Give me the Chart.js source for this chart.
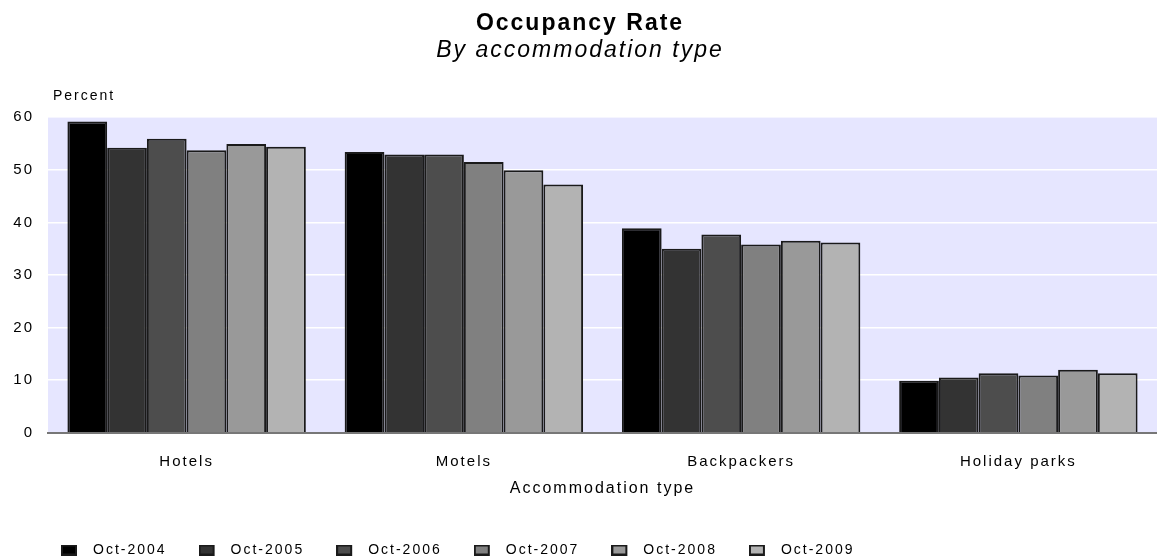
<!DOCTYPE html>
<html>
<head>
<meta charset="utf-8">
<script src="https://cdn.jsdelivr.net/npm/chart.js@4.4.1/dist/chart.umd.min.js"></script>
<style>
  html, body { margin: 0; padding: 0; background: #fff; }
  #chartBar { display: block; }
</style>
</head>
<body>
<canvas id="chartBar" width="1157" height="560"></canvas>
<script>
const categories = ["Hotels", "Motels", "Backpackers", "Holiday parks"];
const periods = ["Oct-2004", "Oct-2005", "Oct-2006", "Oct-2007", "Oct-2008", "Oct-2009"];

// percent, order: Hotels, Motels, Backpackers, Holiday parks
const oct2004 = [59.2, 53.4, 38.9, 9.9];
const oct2005 = [54.2, 52.9, 35.0, 10.5];
const oct2006 = [55.9, 52.9, 37.7, 11.3];
const oct2007 = [53.7, 51.5, 35.8, 10.9];
const oct2008 = [54.9, 49.9, 36.5, 12.0];
const oct2009 = [54.4, 47.2, 36.2, 11.3];

const yTicks = [0, 10, 20, 30, 40, 50, 60];

const barColors = ["#000000", "#333333", "#4d4d4d", "#808080", "#999999", "#b3b3b3"];
const series = [oct2004, oct2005, oct2006, oct2007, oct2008, oct2009];

Chart.defaults.font.family = '"Liberation Sans", Arial, sans-serif';
Chart.defaults.color = "#000";

// legend swatch: 16x11 box on the left of a 25px wide image
function legendBox(color) {
  const c = document.createElement("canvas");
  c.width = 25;
  c.height = 11;
  const g = c.getContext("2d");
  g.fillStyle = "#1a1a1a";
  g.fillRect(0, 0, 16, 11);
  g.fillStyle = color;
  g.fillRect(2, 2, 12, 7);
  return c;
}

const chartLook = {
  id: "chartLook",
  beforeUpdate(chart) {
    chart.ctx.letterSpacing = "2px";
  },
  afterLayout(chart) {
    chart.legend.left += 29;
    chart.legend.top += 7;
  },
  beforeDraw(chart) {
    const { ctx, chartArea: a } = chart;
    ctx.letterSpacing = "2px";
    ctx.save();
    ctx.fillStyle = "#e6e6ff";
    ctx.fillRect(a.left, a.top, a.right - a.left, a.bottom - a.top);
    ctx.restore();
  },
  afterDraw(chart) {
    const ctx = chart.ctx;
    ctx.save();
    ctx.font = '14px "Liberation Sans", Arial, sans-serif';
    ctx.fillStyle = "#000";
    ctx.textBaseline = "alphabetic";
    ctx.textAlign = "left";
    ctx.fillText("Percent", 53, 100);
    ctx.restore();
  },
};

const chartBar = document.getElementById("chartBar");

new Chart(chartBar, {
  type: "bar",
  data: {
    labels: categories,
    datasets: periods.map((p, i) => ({
      label: p,
      data: series[i],
      backgroundColor: barColors[i],
      borderColor: "#1a1a1a",
      borderWidth: 2,
      categoryPercentage: 0.86,
      barPercentage: 1.0,
    })),
  },
  options: {
    responsive: false,
    animation: false,
    layout: {
      padding: { left: 0, right: -3, top: 0, bottom: 0 },
    },
    scales: {
      x: {
        grid: { display: false, drawTicks: false },
        border: { display: true, color: "#777777", width: 2 },
        ticks: {
          padding: 20,
          font: { size: 15 },
        },
        title: {
          display: true,
          text: "Accommodation type",
          font: { size: 16 },
          padding: { top: -12, bottom: 6 },
        },
      },
      y: {
        min: 0,
        max: 60,
        afterBuildTicks: (scale) => {
          scale.ticks = yTicks.map((v) => ({ value: v }));
        },
        afterFit: (scale) => {
          scale.width = 48;
        },
        grid: {
          drawTicks: false,
          color: (c) => (c.tick && c.tick.value === 0 ? "rgba(0,0,0,0)" : "#ffffff"),
          lineWidth: 1.5,
        },
        border: { display: false },
        ticks: {
          padding: 14,
          font: { size: 15 },
        },
      },
    },
    plugins: {
      title: {
        display: true,
        text: "Occupancy Rate",
        font: { size: 23, weight: "bold" },
        color: "#000",
        padding: { top: 10, bottom: 0 },
      },
      subtitle: {
        display: true,
        text: "By accommodation type",
        font: { size: 23, style: "italic", weight: "normal" },
        color: "#000",
        padding: { top: -1, bottom: 53 },
      },
      legend: {
        position: "bottom",
        align: "start",
        labels: {
          usePointStyle: true,
          pointStyleWidth: 25,
          padding: 32,
          font: { size: 14 },
          color: "#000",
          generateLabels: (chart) =>
            Chart.defaults.plugins.legend.labels.generateLabels(chart).map((item, i) => ({
              ...item,
              pointStyle: legendBox(barColors[i]),
              lineWidth: 0,
            })),
        },
      },
      tooltip: { enabled: false },
    },
  },
  plugins: [chartLook],
});
</script>
</body>
</html>
